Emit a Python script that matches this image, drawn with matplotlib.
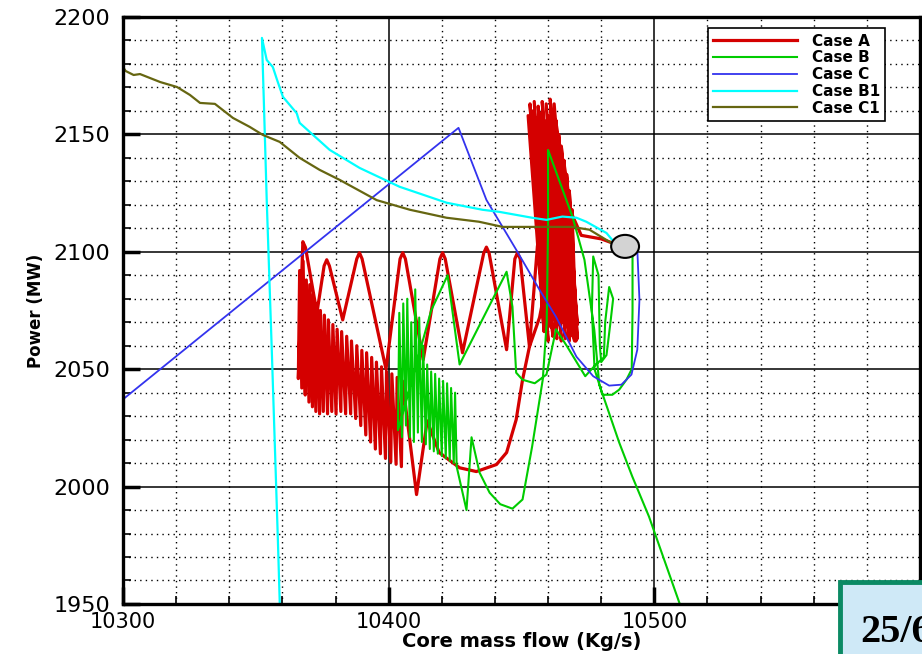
import matplotlib
matplotlib.use("Agg")
import matplotlib.pyplot as plt
from matplotlib.patches import Ellipse, Rectangle
from matplotlib.ticker import MultipleLocator

plt.rcParams['font.family'] = ['DejaVu Sans']

# ---- data (flow kg/s, power MW) ----
# Case A: start, dense block near 10460, big swings to the left, dense part, U back
case_a_x = [10486, 10480, 10472.5,
            10452.5, 10458.5, 10453.2, 10459.3, 10454, 10460, 10454.8, 10461,
            10455.5, 10461.8, 10456.3, 10462.5, 10457, 10463.3, 10457.8, 10464,
            10458.5, 10465, 10459.3, 10465.8, 10460, 10466.5, 10460.8, 10467.3,
            10461.5, 10468, 10462.3, 10468.8, 10463, 10469.5, 10464, 10470,
            10465, 10470.5, 10466, 10471, 10467, 10471, 10468, 10470.5, 10469, 10470,
            10458, 10457, 10456, 10453, 10449.5, 10448.5, 10447.5, 10444.4,
            10437.8, 10436.8, 10435.8, 10427.8, 10421.3, 10420.3, 10419.3, 10413,
            10406.3, 10405.3, 10404.3, 10399, 10390, 10389, 10388, 10382.7,
            10377.7, 10376.7, 10375.7, 10373, 10368.7, 10367.7,
            10366, 10366.5, 10367.3, 10367.8, 10368.6, 10369, 10370, 10370.3,
            10371.3, 10371.6, 10372.6, 10373, 10374, 10374.3, 10375.4, 10375.8,
            10377, 10377.3, 10378.6, 10379, 10380.2, 10380.6, 10382, 10382.3,
            10383.8, 10384.2, 10385.7, 10386, 10387.6, 10388, 10389.5, 10389.9,
            10391.4, 10391.7, 10393.2, 10393.6, 10395, 10395.4, 10396.9, 10397.3,
            10398.8, 10399.2, 10400.8, 10401.2, 10402.8, 10403.2, 10404.8, 10405.2,
            10410.5, 10414.5, 10419, 10426.7, 10433, 10440.6, 10444.4, 10448,
            10450.4, 10453, 10456.8, 10460.5]
case_a_y = [2103, 2105.5, 2107,
            2158, 2066, 2163, 2070, 2160, 2062, 2164, 2068,
            2157, 2064, 2162, 2071, 2159, 2063, 2164, 2069,
            2156, 2062, 2163, 2070, 2158, 2063, 2165, 2068,
            2160, 2062, 2163, 2070, 2156, 2064, 2150, 2068,
            2145, 2062, 2139, 2069, 2133, 2063, 2126, 2068, 2118, 2062,
            2102.5, 2105, 2102.5, 2059.6, 2097, 2099.6, 2097, 2058.3,
            2099.5, 2102, 2099.5, 2057, 2097, 2099.6, 2097, 2054,
            2097, 2099.6, 2097, 2050, 2097, 2099.6, 2097, 2071,
            2094, 2096.6, 2094, 2074, 2101.8, 2104.3,
            2046, 2092, 2042, 2096, 2039, 2088, 2036, 2086,
            2034, 2082, 2032, 2078, 2031, 2075, 2032, 2073,
            2031, 2071, 2032, 2069, 2031, 2067, 2032, 2066,
            2031, 2064, 2031, 2062, 2029, 2060, 2026, 2058,
            2022, 2057, 2019, 2055, 2016, 2053, 2014, 2051,
            2012, 2049, 2010.5, 2048, 2009.5, 2046.5, 2008.5, 2045,
            1996.6, 2028, 2014.5, 2008, 2006.4, 2009.4, 2014.5, 2028.5,
            2045.5, 2059.6, 2072, 2093.6]

case_b_x = [10491.8, 10491.8, 10491.5, 10489.5, 10486.8, 10484.2, 10480.5,
            10477.5, 10476.5, 10477, 10479, 10479.5, 10480, 10482, 10483.5, 10484.5,
            10483, 10481.5, 10481, 10478, 10474, 10467, 10463, 10459.4, 10455,
            10450.4, 10448,
            10446.6, 10444.4, 10426.7, 10422.2, 10416,
            10403.5, 10404, 10405, 10405.5, 10406.5, 10407, 10408, 10408.5, 10409.5,
            10410, 10411, 10411.5, 10412.5, 10413, 10414, 10414.5, 10415.5, 10416,
            10417, 10417.5, 10418.5, 10419, 10420, 10420.5, 10421.5, 10422, 10423,
            10423.5, 10424.5, 10425, 10425.6,
            10429.3, 10431.2, 10434.2, 10438, 10442, 10446.6, 10450.4, 10454,
            10458, 10459.5, 10460, 10460,
            10469.2, 10473.7, 10477.4, 10479.3, 10486.8, 10491.7, 10498, 10509.4, 10517]
case_b_y = [2100.9, 2075, 2050, 2045.5, 2041.3, 2039.1, 2039.1,
            2050, 2075, 2098, 2090, 2060, 2053, 2056, 2070, 2080,
            2085, 2070, 2055, 2052, 2047, 2060, 2067, 2047.7, 2044,
            2045.5, 2048.5,
            2076.6, 2091.5, 2052, 2090, 2075,
            2024, 2074, 2021, 2078, 2026, 2080, 2021, 2070, 2019,
            2084, 2023, 2072, 2019, 2060, 2018, 2052, 2016, 2049,
            2015, 2048, 2014, 2046, 2013, 2045, 2012, 2044, 2011,
            2042, 2010, 2040, 2008.5,
            1990, 2021, 2006, 1997.4, 1992.5, 1990.6, 1994.5, 2017,
            2045.5, 2070, 2110, 2143.4,
            2114.9, 2096.6, 2066.8, 2043.4, 2018.7, 2004.3, 1987.2, 1950.6, 1926]

case_c_x = [10493.6, 10494.4, 10493.6, 10491.4, 10487.6, 10483, 10477, 10470.7,
            10463, 10456.8, 10448, 10436.8, 10426.3, 10290]
case_c_y = [2100.9, 2079.6, 2058.3, 2047.7, 2043.4, 2043, 2047, 2055.3,
            2072.3, 2083.8, 2100.9, 2122.1, 2152.8, 2028]

case_b1_x = [10484.2, 10482, 10474.4, 10470.7, 10465.4, 10459.4, 10454, 10441.7,
             10435.3, 10421.8, 10404.1, 10389.1, 10377.8, 10366.5, 10365.4, 10360.2,
             10358, 10356.4, 10354.1, 10352.3, 10353, 10354.1, 10356, 10358.3,
             10359, 10359.4]
case_b1_y = [2105, 2108, 2112.8, 2114.5, 2115, 2113.6, 2114.5, 2117,
             2117.9, 2120.9, 2127.7, 2135.7, 2143.4, 2154.9, 2159, 2166,
             2173.2, 2178.7, 2181.7, 2191.1, 2164.7, 2122.1, 2058.3, 1977.4,
             1950.6, 1935]

case_c1_x = [10300, 10301, 10304, 10306.4, 10314, 10320.3, 10325.2, 10329, 10334.6,
             10341.4, 10347.7, 10352.6, 10359, 10366.5, 10374, 10381.6, 10395.5,
             10408, 10421.8, 10434, 10442.9, 10453, 10460.5, 10469, 10475.6, 10483.8]
case_c1_y = [2178.7, 2177, 2175.3, 2175.7, 2172.3, 2170.2, 2166.8, 2163.4, 2163,
             2157, 2153.2, 2149.8, 2146.8, 2140, 2134.9, 2130.6, 2122,
             2117.9, 2114.5, 2112.8, 2110.6, 2110.6, 2110.6, 2110.6, 2109.4, 2103.8]

initial_state = (10489, 2102.3)

x_ticks = [10300, 10400, 10500]
y_ticks = [1950, 2000, 2050, 2100, 2150, 2200]

fig = plt.figure(figsize=(9.22, 6.54), dpi=100)
ax = fig.add_axes([0.1334, 0.0765, 0.8644, 0.8975])

ax.plot(case_a_x, case_a_y, color='#d40000', lw=2.3, label='Case A')
ax.plot(case_b_x, case_b_y, color='#00cc00', lw=1.5, label='Case B')
ax.plot(case_c_x, case_c_y, color='#3333ee', lw=1.3, label='Case C')
ax.plot(case_b1_x, case_b1_y, color='#00ffff', lw=1.6, label='Case B1')
ax.plot(case_c1_x, case_c1_y, color='#666611', lw=1.6, label='Case C1')

ax.add_patch(Ellipse(initial_state, 10.5, 9.8, facecolor='#d3d3d3',
                     edgecolor='black', lw=1.5, zorder=5))

ax.set_xlim(10300, 10600)
ax.set_ylim(1950, 2200)
ax.set_xticks(x_ticks)
ax.set_yticks(y_ticks)
ax.xaxis.set_minor_locator(MultipleLocator(20))
ax.yaxis.set_minor_locator(MultipleLocator(10))
ax.tick_params(which='major', direction='in', length=12, width=2.5)
ax.tick_params(which='minor', direction='in', length=6, width=1.2)
ax.tick_params(axis='x', which='major', labelsize=15, pad=6)
ax.tick_params(axis='y', which='major', labelsize=16, pad=9)

ax.grid(which='major', color='black', lw=1.1, ls='-')
ax.grid(which='minor', color='black', lw=1.0, ls=(0, (1, 3)))
ax.axvline(10600, color='black', lw=1.1)
ax.set_axisbelow(True)
for s in ax.spines.values():
    s.set_linewidth(2.4)

ax.set_xlabel('Core mass flow (Kg/s)', fontsize=14, fontweight='bold', labelpad=0)
ax.set_ylabel('Power (MW)', fontsize=12, fontweight='bold', labelpad=6)

leg = ax.legend(loc='upper left', bbox_to_anchor=(0.734, 0.981), fancybox=False,
                framealpha=1, edgecolor='black', handlelength=5.5, handletextpad=0.95,
                labelspacing=0.12, borderpad=0.35, borderaxespad=0,
                prop={'weight': 'bold', 'size': 11})
leg.get_frame().set_linewidth(1.2)

# slide number box in the corner
fig.add_artist(Rectangle((0.911, -0.05), 0.2, 0.16, transform=fig.transFigure,
                         facecolor='#cfe9f7', edgecolor='#0b8a64', lw=3.5, zorder=10))
fig.text(0.933, 0.018, '25/6', fontsize=29, fontweight='bold',
         family=['Liberation Serif', 'DejaVu Serif'], va='baseline', zorder=11)

fig.savefig('out.png', dpi=100)
